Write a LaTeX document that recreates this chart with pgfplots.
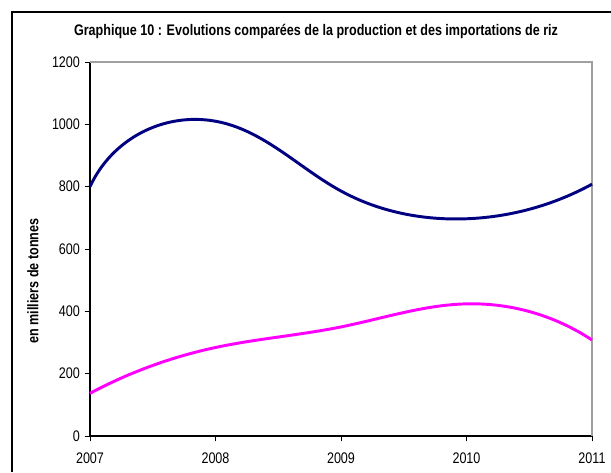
\documentclass[border=0pt]{standalone}
\usepackage{fontspec}
\setmainfont{Liberation Sans}[FakeStretch=0.82]
\usepackage{pgfplots}
\pgfplotsset{compat=1.18}
\usetikzlibrary{hobby}
\definecolor{navyline}{RGB}{0,0,128}
\definecolor{magline}{RGB}{255,0,255}
\definecolor{frameg}{RGB}{160,160,160}
\begin{document}
\begin{tikzpicture}
\path[use as bounding box] (0,0) rectangle (458.25pt,354pt);
% outer frame (cropped on right and bottom)
\draw[line width=0.9pt] (9pt,0) -- (9pt,345pt) -- (458.25pt,345pt);
\node[font=\fontsize{11.5}{13}\selectfont\bfseries] at (237pt,330.5pt)
  {Graphique 10 : Evolutions comparées de la production et des importations de riz};
\node[font=\fontsize{11.5}{13}\selectfont\bfseries, rotate=90] at (24.75pt,143.25pt)
  {en milliers de tonnes};
\begin{axis}[
    at={(67.5pt,27pt)}, anchor=south west,
    scale only axis,
    width=376.5pt, height=280.5pt,
    xmin=2007, xmax=2011,
    ymin=0, ymax=1200,
    xtick={2007,2008,2009,2010,2011},
    ytick={0,200,400,600,800,1000,1200},
    axis lines=left,
    axis line style={-, line width=0.8pt, black},
    tick align=outside,
    major tick length=4pt,
    tick style={line width=0.6pt, black},
    tick label style={font=\fontsize{11.5}{13}\selectfont},
    /pgf/number format/assume math mode=true,
    x tick label style={/pgf/number format/1000 sep={}, yshift=-5pt},
    y tick label style={/pgf/number format/1000 sep={}},
    clip=false,
]
\draw[frameg, line width=0.8pt] (rel axis cs:0,1) -- (rel axis cs:1,1) -- (rel axis cs:1,0);
\addplot[navyline, line width=2.2pt, hobby, out curl=0, in curl=0] coordinates {
    (2007,800) (2008,1010) (2009,786) (2010,697) (2011,808)
};
\addplot[magline, line width=2.2pt, hobby, out curl=0, in curl=0] coordinates {
    (2007,137) (2008,284) (2009,350) (2010,424) (2011,308)
};
\end{axis}
\end{tikzpicture}
\end{document}
